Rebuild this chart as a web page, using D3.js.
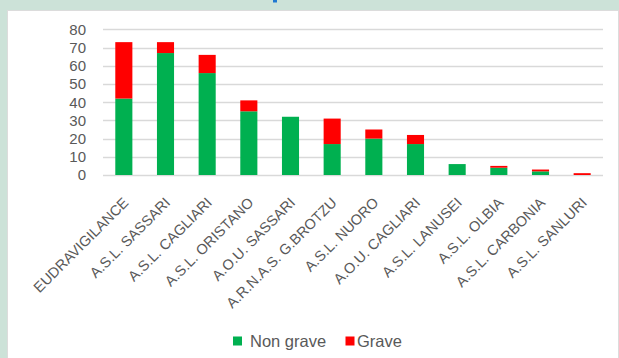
<!DOCTYPE html>
<html lang="it">
<head>
<meta charset="utf-8">
<title>Segnalazioni per struttura</title>
<script src="https://cdn.jsdelivr.net/npm/d3@7"></script>
<style>
  html, body { margin: 0; padding: 0; background: #cce2d8; }
  svg { display: block; font-family: 'Liberation Sans', Arial, sans-serif; }
</style>
</head>
<body>
<svg id="chart" width="619" height="358"></svg>
<script>

/* Data */
var categories = ['EUDRAVIGILANCE', 'A.S.L. SASSARI', 'A.S.L. CAGLIARI', 'A.S.L. ORISTANO',
  'A.O.U. SASSARI', 'A.R.N.A.S. G.BROTZU', 'A.S.L. NUORO', 'A.O.U. CAGLIARI',
  'A.S.L. LANUSEI', 'A.S.L. OLBIA', 'A.S.L. CARBONIA', 'A.S.L. SANLURI'];
var nonGrave = [42, 67, 56, 35, 32, 17, 20, 17, 6, 4, 2, 0];
var grave    = [31, 6, 10, 6, 0, 14, 5, 5, 0, 1, 1, 1];
var seriesNames = ['Non grave', 'Grave'];
var yTicks = [0, 10, 20, 30, 40, 50, 60, 70, 80];

var colors = { 'Non grave': '#00b050', 'Grave': '#ff0000' };
var textColor = '#595959';

var svg = d3.select('#chart');

// background panel
svg.append('rect').attr('x', 0).attr('y', 0).attr('width', 619).attr('height', 358).attr('fill', '#cce2d8');
svg.append('rect').attr('x', 273).attr('y', 0).attr('width', 4).attr('height', 2.5).attr('fill', '#1f78d1');
svg.append('rect').attr('x', 7).attr('y', 10).attr('width', 612).attr('height', 348).attr('fill', '#dcdcdc');
svg.append('rect').attr('x', 8).attr('y', 11).attr('width', 610).attr('height', 347).attr('fill', '#ffffff');

var x = d3.scaleBand().domain(categories).range([103, 603]).paddingInner(0.59).paddingOuter(0.295);
var y = d3.scaleLinear().domain([0, 80]).range([175, 29.4]);

// gridlines
svg.append('g').selectAll('line').data(yTicks).join('line')
  .attr('x1', 103).attr('x2', 603)
  .attr('y1', function(d) { return Math.round(y(d)) + 0.5; })
  .attr('y2', function(d) { return Math.round(y(d)) + 0.5; })
  .attr('stroke', '#d9d9d9').attr('stroke-width', 1.3);

// y labels
svg.append('g').selectAll('text').data(yTicks).join('text')
  .attr('x', 86).attr('y', function(d) { return y(d); })
  .attr('dy', '0.36em').attr('text-anchor', 'end')
  .attr('font-size', 15).attr('fill', textColor)
  .text(function(d) { return d; });

// stacked bars
var rows = categories.map(function(c, i) { return { cat: c, 'Non grave': nonGrave[i], 'Grave': grave[i] }; });
var stack = d3.stack().keys(seriesNames)(rows);

svg.append('g').selectAll('g').data(stack).join('g')
  .attr('fill', function(s) { return colors[s.key]; })
  .selectAll('rect').data(function(s) { return s; }).join('rect')
  .attr('x', function(d) { return x(d.data.cat); })
  .attr('width', x.bandwidth())
  .attr('y', function(d) { return y(d[1]); })
  .attr('height', function(d) { return y(d[0]) - y(d[1]); });

// x labels
svg.append('g').selectAll('text').data(categories).join('text')
  .attr('transform', function(d) { return 'translate(' + (x(d) + x.bandwidth() / 2 + 2) + ',200) rotate(-45)'; })
  .attr('text-anchor', 'end').attr('dy', '0.35em')
  .attr('font-size', 14.5).attr('fill', textColor)
  .text(function(d) { return d; });

// legend
var legend = svg.append('g');
var legendPos = [{ sx: 233, tx: 250 }, { sx: 345.5, tx: 357 }];
seriesNames.forEach(function(name, i) {
  legend.append('rect').attr('x', legendPos[i].sx).attr('y', 336.5).attr('width', 9).attr('height', 9)
    .attr('fill', colors[name]);
  legend.append('text').attr('x', legendPos[i].tx).attr('y', 341).attr('dy', '0.36em')
    .attr('font-size', 16.5).attr('fill', textColor).text(name);
});

</script>
</body>
</html>
